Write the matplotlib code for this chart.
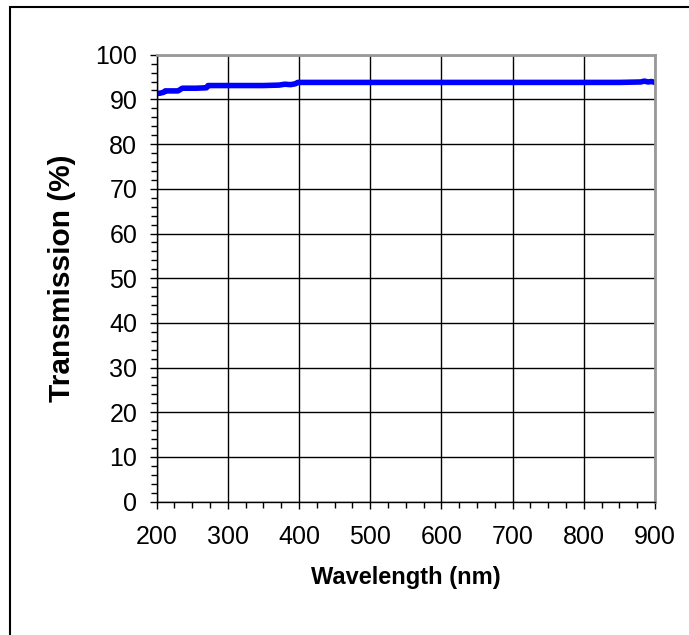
import matplotlib
matplotlib.use('Agg')
import matplotlib.pyplot as plt
from matplotlib.patches import Rectangle
from matplotlib.ticker import MultipleLocator

plt.rcParams['font.family'] = ['Liberation Sans', 'DejaVu Sans']

# wavelength (nm) / transmission (%)
longitud = [200, 205, 210, 212, 230, 236, 255, 270, 272, 300, 350, 372, 380, 388, 395,
            398, 450, 500, 550, 600, 650, 700, 750, 800, 850, 880, 885, 890, 895, 900]
transmision = [91.3, 91.4, 91.6, 91.9, 91.9, 92.5, 92.5, 92.6, 93.1, 93.1, 93.1, 93.2, 93.4, 93.3, 93.5,
               93.8, 93.8, 93.8, 93.8, 93.8, 93.8, 93.8, 93.8, 93.8, 93.8, 93.9, 94.1, 93.9, 94.0, 93.8]

fig = plt.figure(figsize=(6.89, 6.35), dpi=100)
ax = fig.add_axes([156.7/689, 1 - 501.7/635, (655 - 156.7)/689, (501.7 - 54.7)/635])

# marco exterior del grafico
fig.patches.append(Rectangle((10/689, -0.1), 1.2, 1 - 7/635 + 0.1, transform=fig.transFigure,
                             fill=False, edgecolor='black', linewidth=1.5))

ax.plot(longitud, transmision, color='#0000ff', linewidth=4, solid_capstyle='round')

ax.set_xlim(200, 900)
ax.set_ylim(0, 100)
ax.xaxis.set_major_locator(MultipleLocator(100))
ax.xaxis.set_minor_locator(MultipleLocator(25))
ax.yaxis.set_major_locator(MultipleLocator(10))
ax.yaxis.set_minor_locator(MultipleLocator(2))
ax.grid(True, which='major', color='black', linewidth=1)
ax.set_axisbelow(True)

ax.tick_params(which='major', direction='out', length=5, width=1, labelsize=18)
ax.tick_params(axis='x', which='major', pad=12)
ax.tick_params(axis='y', which='major', pad=9)
ax.tick_params(which='minor', direction='out', length=4, width=1)

for s in ['top', 'right']:
    ax.spines[s].set_color('#999999')
    ax.spines[s].set_linewidth(2)
for s in ['left', 'bottom']:
    ax.spines[s].set_color('black')
    ax.spines[s].set_linewidth(1)

ax.set_xlabel('Wavelength (nm)', fontsize=17, fontweight='bold', labelpad=12)
ax.set_ylabel('Transmission (%)', fontsize=21.5, fontweight='bold', labelpad=14)

fig.savefig('out.png', dpi=100)
